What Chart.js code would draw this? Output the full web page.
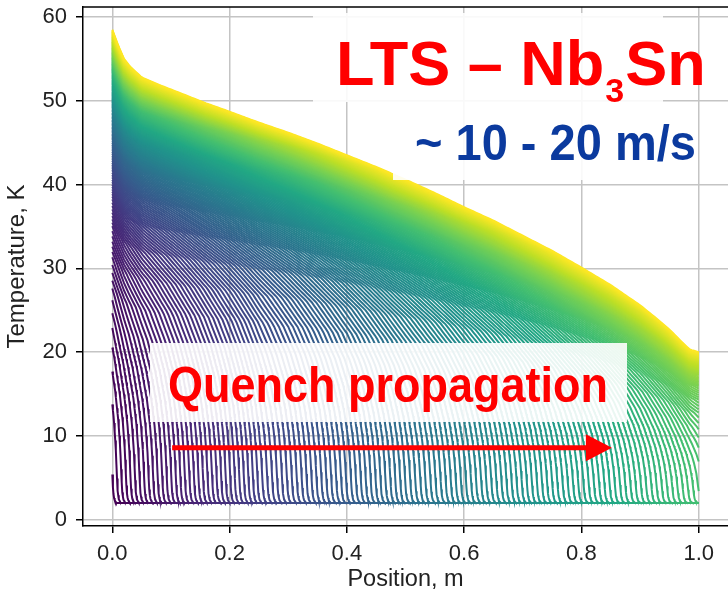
<!DOCTYPE html>
<html>
<head>
<meta charset="utf-8">
<script src="https://cdn.jsdelivr.net/npm/chart.js@4.4.1/dist/chart.umd.min.js"></script>
<style>
html,body{margin:0;padding:0;background:#fff;}
#wrap{width:728px;height:594px;}
</style>
</head>
<body>
<div id="wrap"><canvas id="c" width="728" height="594"></canvas></div>
<script>
// final temperature profile (the top, yellow curve)
const finalPos  = [0, 0.01, 0.02, 0.03, 0.05, 0.08, 0.12, 0.16, 0.2, 0.25, 0.3, 0.35, 0.4, 0.45, 0.5, 0.55, 0.6, 0.65, 0.7, 0.75, 0.8, 0.85, 0.9, 0.93, 0.95, 0.97, 0.985, 1.0];
const finalTemp = [58.5, 56.6, 55.0, 54.1, 52.8, 51.9, 50.8, 49.7, 48.7, 47.4, 46.2, 44.9, 43.5, 42.1, 40.6, 39.0, 37.3, 35.7, 33.9, 32.1, 30.1, 28.0, 25.6, 23.9, 22.7, 21.3, 20.3, 20.0];

// when the normal zone front reaches a position (fraction of the run)
const arrivalPos  = [0, 0.25, 0.5, 0.75, 1.0];
const arrivalTime = [0, 0.19, 0.365, 0.535, 0.70];

// rise behind the front vs time since the front passed (fraction of final rise)
const riseTime  = [-0.005, -0.0025, -0.001, 0, 0.0015, 0.004, 0.008, 0.015, 0.025, 0.04, 0.065, 0.1, 0.15, 0.22, 0.32, 0.45, 0.65, 1.0];
const riseLevel = [0, 0.008, 0.025, 0.06, 0.12, 0.18, 0.24, 0.31, 0.38, 0.45, 0.52, 0.585, 0.645, 0.705, 0.77, 0.835, 0.91, 1.0];

const baseTemp = 2.0;
const snapshotCount = 170;

const xTicks = [0, 0.2, 0.4, 0.6, 0.8, 1.0];
const yTicks = [0, 10, 20, 30, 40, 50, 60];

const viridis = ['#440154','#482475','#414487','#355f8d','#2a788e','#21918c','#22a884','#44bf70','#7ad151','#bddf26','#fde725'];

function interp(xs, ys, v) {
  if (v <= xs[0]) return ys[0];
  if (v >= xs[xs.length - 1]) return ys[ys.length - 1];
  let i = 1;
  while (xs[i] < v) i++;
  const f = (v - xs[i - 1]) / (xs[i] - xs[i - 1]);
  return ys[i - 1] + f * (ys[i] - ys[i - 1]);
}

function hex(c) { return [1, 3, 5].map(i => parseInt(c.substr(i, 2), 16)); }
function cmap(f) {
  const p = f * (viridis.length - 1);
  const i = Math.min(Math.floor(p), viridis.length - 2);
  const a = hex(viridis[i]), b = hex(viridis[i + 1]), k = p - i;
  return 'rgb(' + a.map((v, j) => Math.round(v + k * (b[j] - v))).join(',') + ')';
}

function tempAt(x, t) {
  const tp = interp(arrivalPos, arrivalTime, x);
  const top = interp(finalPos, finalTemp, x);
  const lvl = interp(riseTime, riseLevel, t - tp) / interp(riseTime, riseLevel, 1 - tp);
  return baseTemp + (top - baseTemp) * lvl;
}

function snapshot(t) {
  const xf = t >= arrivalTime[arrivalTime.length - 1] ? 1.1 : interp(arrivalTime, arrivalPos, t);
  const pts = [];
  let x = 0;
  while (x < 1) {
    pts.push({x: x, y: tempAt(x, t)});
    if (x > xf + 0.012) break;
    x += Math.abs(x - xf) < 0.03 ? 0.001 : 0.004;
  }
  pts.push({x: 1, y: tempAt(1, t)});
  return pts;
}

const datasets = [];
for (let k = snapshotCount; k >= 0; k--) {
  const t = k / snapshotCount;
  datasets.push({
    data: snapshot(t),
    borderColor: cmap(t),
    borderWidth: 2,
    pointRadius: 0,
    tension: 0,
    fill: false
  });
}

const frame = {
  id: 'frame',
  afterDraw(chart) {
    const {ctx, chartArea: a} = chart;
    ctx.save();
    ctx.strokeStyle = '#000';
    ctx.lineWidth = 1.5;
    ctx.beginPath();
    ctx.moveTo(a.left, a.top);
    ctx.lineTo(a.right, a.top);
    ctx.stroke();
    ctx.restore();
  }
};

function stretchedText(ctx, txt, x, y, sy) {
  ctx.save();
  ctx.translate(x, y);
  ctx.scale(1, sy);
  ctx.fillText(txt, 0, 0);
  ctx.restore();
}

const notes = {
  id: 'notes',
  afterDatasetsDraw(chart) {
    const {ctx, scales: {x, y}} = chart;
    ctx.save();
    ctx.fillStyle = 'rgba(255,255,255,0.9)';
    ctx.fillRect(313, 13, 350, 89);
    ctx.fillRect(393, 102, 304, 78);
    ctx.fillRect(150, 343, 477, 79);

    ctx.textBaseline = 'alphabetic';
    ctx.fillStyle = '#ff0000';
    const big = 'bold 63px "Liberation Sans", Arial, sans-serif';
    ctx.font = big;
    let cx = 336;
    ctx.fillText('LTS \u2013 Nb', cx, 85);
    cx += ctx.measureText('LTS \u2013 Nb').width;
    ctx.font = 'bold 34px "Liberation Sans", Arial, sans-serif';
    ctx.fillText('3', cx + 1, 102);
    cx += ctx.measureText('3').width + 2;
    ctx.font = big;
    ctx.fillText('Sn', cx, 85);

    ctx.fillStyle = '#0b3a9e';
    ctx.font = 'bold 47px "Liberation Sans", Arial, sans-serif';
    stretchedText(ctx, '~ 10 - 20 m/s', 415, 160, 1.05);

    ctx.fillStyle = '#ff0000';
    ctx.font = 'bold 45px "Liberation Sans", Arial, sans-serif';
    stretchedText(ctx, 'Quench propagation', 168, 402, 1.09);

    // arrow
    const ay = y.getPixelForValue(8.6);
    const ax0 = x.getPixelForValue(0.102), ax1 = x.getPixelForValue(0.852);
    ctx.strokeStyle = '#ff0000';
    ctx.lineWidth = 5;
    ctx.beginPath();
    ctx.moveTo(ax0, ay);
    ctx.lineTo(ax1 - 20, ay);
    ctx.stroke();
    ctx.beginPath();
    ctx.moveTo(ax1, ay);
    ctx.lineTo(ax1 - 26, ay - 13.5);
    ctx.lineTo(ax1 - 26, ay + 13.5);
    ctx.closePath();
    ctx.fill();
    ctx.restore();
  }
};

const fam = '"Liberation Sans", Arial, sans-serif';
const tickFont = {family: fam, size: 22};

new Chart(document.getElementById('c'), {
  type: 'line',
  data: {datasets: datasets},
  options: {
    responsive: false,
    devicePixelRatio: 1,
    animation: false,
    events: [],
    layout: {padding: {top: 7, right: 0, left: 0, bottom: 0}},
    plugins: {legend: {display: false}, tooltip: {enabled: false}},
    scales: {
      x: {
        type: 'linear',
        min: -0.05, max: 1.05,
        afterFit: s => { s.height = 68; s.paddingLeft = 0; s.paddingRight = 0; },
        afterBuildTicks: s => { s.ticks = xTicks.map(v => ({value: v})); },
        ticks: {font: tickFont, color: '#222', padding: 8, maxRotation: 0, callback: v => v.toFixed(1)},
        grid: {color: '#c4c4c4', lineWidth: 1.5, tickColor: '#000', tickLength: 7, tickWidth: 1.5},
        border: {color: '#000', width: 1.5},
        title: {display: true, text: 'Position, m', color: '#222', font: {family: fam, size: 23.5}, padding: 0}
      },
      y: {
        type: 'linear',
        min: -0.75, max: 61.2,
        afterFit: s => { s.width = 83; s.paddingTop = 0; s.paddingBottom = 0; },
        afterBuildTicks: s => { s.ticks = yTicks.map(v => ({value: v})); },
        ticks: {font: tickFont, color: '#222', padding: 9, callback: v => String(v)},
        grid: {color: '#c4c4c4', lineWidth: 1.5, tickColor: '#000', tickLength: 7, tickWidth: 1.5},
        border: {color: '#000', width: 1.5},
        title: {display: true, text: 'Temperature, K', color: '#222', font: {family: fam, size: 24}, padding: {top: 3, bottom: 0}}
      }
    }
  },
  plugins: [frame, notes]
});
</script>
</body>
</html>
